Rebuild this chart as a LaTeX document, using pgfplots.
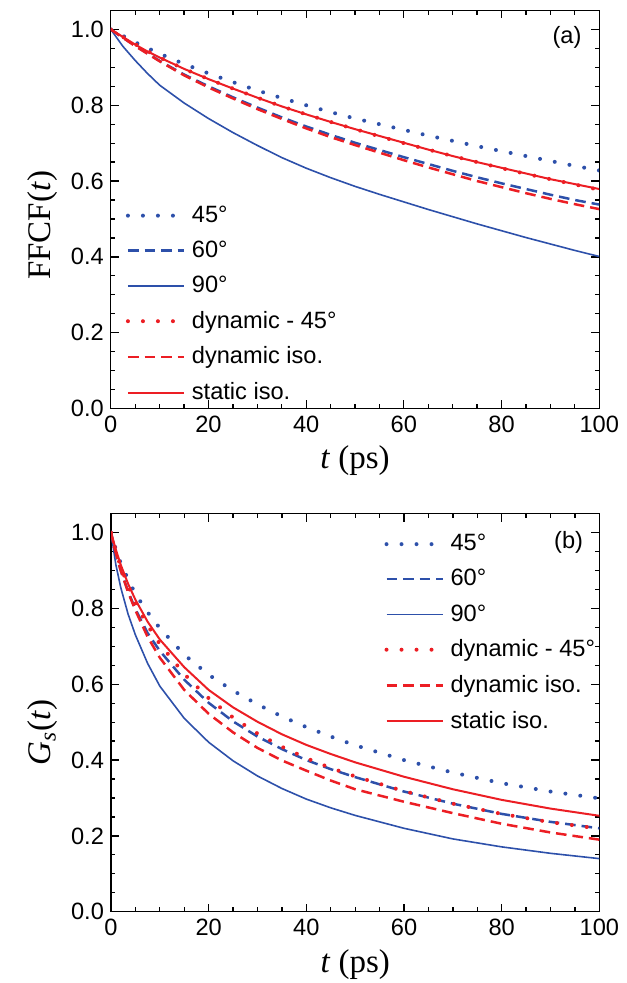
\documentclass[border=0pt]{standalone}
\usepackage{pgfplots}
\pgfplotsset{compat=1.18}
\usepackage{pgfplotstable}
\usepackage{fontspec}
\setmainfont{Liberation Sans}
\newfontfamily\seriffont{Liberation Serif}
\definecolor{cblue}{RGB}{45,80,170}
\definecolor{cred}{RGB}{236,30,36}

\pgfplotstableread{
t    a45   a60   a90   d45   diso  siso
0    1     1     1     1     1     1
2.5  0.983 0.978 0.955 0.980 0.978 0.980
5    0.966 0.957 0.918 0.961 0.956 0.960
7.5  0.951 0.937 0.884 0.943 0.936 0.942
10   0.936 0.917 0.853 0.926 0.916 0.926
15   0.909 0.881 0.806 0.896 0.879 0.896
20   0.884 0.850 0.765 0.869 0.847 0.869
25   0.861 0.821 0.728 0.844 0.818 0.844
30   0.839 0.794 0.694 0.820 0.790 0.820
35   0.819 0.768 0.662 0.797 0.764 0.797
40   0.800 0.744 0.634 0.776 0.739 0.776
45   0.782 0.722 0.609 0.756 0.716 0.756
50   0.765 0.701 0.586 0.737 0.695 0.737
55   0.750 0.682 0.565 0.718 0.675 0.719
60   0.735 0.663 0.545 0.700 0.655 0.701
65   0.720 0.645 0.525 0.683 0.636 0.683
70   0.706 0.627 0.506 0.666 0.618 0.666
75   0.692 0.610 0.487 0.650 0.600 0.650
80   0.679 0.594 0.469 0.634 0.584 0.635
85   0.666 0.579 0.451 0.619 0.568 0.620
90   0.653 0.564 0.434 0.605 0.553 0.605
95   0.640 0.550 0.417 0.591 0.539 0.592
100  0.628 0.538 0.401 0.577 0.526 0.579
}\ffcf

\pgfplotstableread{
t    a45   a60   a90   d45   diso  siso
0    1     1     1     1     1     1
1    0.956 0.945 0.915 0.950 0.945 0.955
2    0.919 0.900 0.855 0.910 0.900 0.915
3.5  0.877 0.845 0.785 0.860 0.843 0.865
5    0.838 0.798 0.730 0.815 0.795 0.823
7.5  0.790 0.735 0.655 0.755 0.725 0.765
10   0.748 0.688 0.595 0.706 0.670 0.718
15   0.678 0.612 0.510 0.627 0.585 0.645
20   0.625 0.551 0.447 0.563 0.522 0.585
25   0.583 0.502 0.398 0.512 0.473 0.539
30   0.547 0.462 0.358 0.470 0.432 0.501
35   0.515 0.429 0.325 0.435 0.399 0.468
40   0.487 0.400 0.297 0.405 0.372 0.440
45   0.462 0.376 0.274 0.379 0.346 0.416
50   0.439 0.355 0.254 0.357 0.323 0.394
60   0.400 0.317 0.220 0.318 0.290 0.356
70   0.367 0.285 0.192 0.285 0.260 0.323
80   0.339 0.258 0.171 0.258 0.232 0.295
90   0.317 0.237 0.154 0.236 0.209 0.272
100  0.299 0.220 0.140 0.219 0.190 0.253
}\gst

\pgfplotsset{
  panel/.style={
    scale only axis,
    width=244.2pt, height=199pt,
    xmin=0, xmax=100, ymin=0, ymax=1.05,
    xtick={0,20,40,60,80,100},
    ytick={0,0.2,0.4,0.6,0.8,1.0},
    minor x tick num=3, minor y tick num=3,
    tick align=inside,
    major tick length=4pt, minor tick length=2.2pt,
    axis line style={line width=0.65pt},
    every tick/.style={black, line width=0.65pt},
    /pgf/number format/assume math mode=true,
    yticklabel style={/pgf/number format/fixed, /pgf/number format/fixed zerofill, /pgf/number format/precision=1},
    tick label style={font=\fontsize{11.8}{14}\selectfont},
    label style={font=\fontsize{16.5}{19}\selectfont},
    xlabel={{\seriffont\textit{t} (ps)}},
    legend cell align=left,
    legend style={draw=none, fill=none, inner sep=0pt, outer sep=0pt,
      font=\fontsize{11.8}{14}\selectfont,
      /tikz/every odd column/.append style={column sep=1pt}},
    legend image code/.code={\draw[##1] (0pt,0pt) -- (28pt,0pt);},
  },
  s45/.style={cblue, line width=2pt, line cap=round, dash pattern=on 0pt off 7.5pt},
  s60/.style={cblue, line width=1.25pt, dash pattern=on 5.3pt off 3pt},
  s90/.style={cblue, line width=0.8pt},
  sd45/.style={cred, line width=2pt, line cap=round, dash pattern=on 0pt off 7.5pt},
  sdiso/.style={cred, line width=1.25pt, dash pattern=on 5.3pt off 3pt},
  ssiso/.style={cred, line width=1pt},
}

\begin{document}
\begin{tikzpicture}
\path[use as bounding box] (0,0) rectangle (313pt,491.5pt);
\begin{axis}[panel, at={(55.4pt,287.25pt)}, anchor=south west,
  ylabel={{\seriffont FFCF(\textit{t})}},
  ylabel style={at={(ticklabel cs:0.46)}},
  legend style={at={(rel axis cs:0.031,0.519)}, anchor=north west, row sep=3.8pt, /tikz/every odd column/.append style={column sep=1pt}}]
\addplot[s45] table[x=t,y=a45] {\ffcf};
\addlegendentry{45°}
\addplot[s60] table[x=t,y=a60] {\ffcf};
\addlegendentry{60°}
\addplot[s90] table[x=t,y=a90] {\ffcf};
\addlegendentry{90°}
\addplot[sd45] table[x=t,y=d45] {\ffcf};
\addlegendentry{dynamic - 45°}
\addplot[sdiso] table[x=t,y=diso] {\ffcf};
\addlegendentry{dynamic iso.}
\addplot[ssiso] table[x=t,y=siso] {\ffcf};
\addlegendentry{static iso.}
\node[font=\fontsize{11.8}{14}\selectfont] at (axis cs:93.4,0.978) {(a)};
\end{axis}
\begin{axis}[panel, at={(55.5pt,35.65pt)}, anchor=south west,
  ylabel={{\seriffont\textit{G}\textsubscript{\textit{s}}(\textit{t})}},
  ylabel style={at={(ticklabel cs:0.45)}},
  legend style={at={(rel axis cs:0.560,0.958)}, anchor=north west, row sep=3.8pt, /tikz/every odd column/.append style={column sep=1pt}}]
\addplot[s45] table[x=t,y=a45] {\gst};
\addlegendentry{45°}
\addplot[s60] table[x=t,y=a60] {\gst};
\addlegendentry{60°}
\addplot[s90] table[x=t,y=a90] {\gst};
\addlegendentry{90°}
\addplot[sd45] table[x=t,y=d45] {\gst};
\addlegendentry{dynamic - 45°}
\addplot[sdiso] table[x=t,y=diso] {\gst};
\addlegendentry{dynamic iso.}
\addplot[ssiso] table[x=t,y=siso] {\gst};
\addlegendentry{static iso.}
\node[font=\fontsize{11.8}{14}\selectfont] at (axis cs:93.7,0.974) {(b)};
\end{axis}
\end{tikzpicture}
\end{document}
